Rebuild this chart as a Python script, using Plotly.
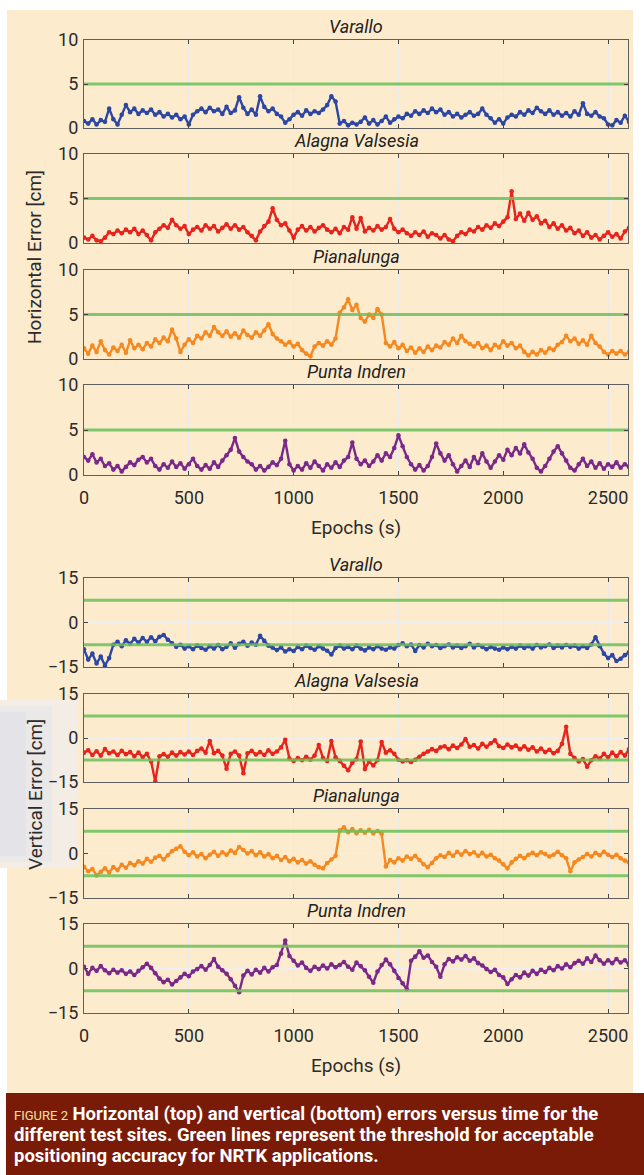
import plotly.graph_objects as go

# ---------------- data ----------------
epochs = list(range(0, 2601, 20))
x_range = [0, 2595]
x_ticks = [0, 500, 1000, 1500, 2000, 2500]
h_ticks = [0, 5, 10]
v_ticks = [-15, 0, 15]
h_range = [0, 10]
v_range = [-15, 15]
h_threshold = [5]
v_threshold = [7.5, -7.5]

sites = ["Varallo", "Alagna Valsesia", "Pianalunga", "Punta Indren"]
site_colors = ["#2c46a3", "#e8231b", "#f5891f", "#7a2889"]

h_varallo = [
    0.8, 0.5, 1.0, 0.4, 0.9, 0.7, 2.2, 1.0, 0.4, 1.5,
    2.6, 1.8, 2.2, 1.6, 2.0, 1.7, 2.1, 1.5, 1.8, 1.3,
    1.6, 1.2, 1.5, 1.0, 1.3, 0.4, 1.5, 1.9, 2.2, 1.8,
    2.3, 1.9, 2.1, 1.6, 2.4, 1.7, 2.0, 3.5, 2.3, 1.6,
    2.1, 1.5, 3.6, 2.4, 1.9, 2.2, 1.6, 1.3, 0.6, 1.0,
    1.5, 1.8, 1.4, 2.0, 1.6, 1.9, 1.7, 2.1, 2.6, 3.6,
    3.0, 0.5, 0.8, 0.3, 0.6, 0.4, 0.7, 1.2, 0.5, 0.9,
    0.4, 0.8, 1.3, 0.6, 1.0, 1.3, 1.1, 1.6, 1.4, 1.9,
    1.6, 2.0, 1.7, 2.2, 1.8, 2.1, 1.5, 1.8, 1.3, 1.6,
    1.2, 1.5, 1.8, 1.4, 1.6, 2.2, 1.5, 1.1, 0.6, 1.0,
    0.5, 1.2, 1.5, 1.3, 1.8, 1.5, 2.0, 1.7, 2.3, 1.9,
    1.6, 2.0, 1.5, 1.8, 1.4, 1.7, 1.3, 1.9, 1.5, 2.8,
    1.6, 1.4, 1.8, 1.3, 1.1, 0.4, 0.3, 0.9, 0.6, 1.4,
    0.7,
]
h_alagna = [
    0.6, 0.4, 0.8, 0.3, 0.2, 0.6, 1.2, 1.0, 1.4, 1.1,
    1.5, 1.2, 1.6, 1.0, 1.4, 0.9, 0.3, 1.2, 1.6, 2.0,
    1.7, 2.6, 2.0, 1.6, 1.9, 1.0, 1.5, 1.8, 1.4, 2.0,
    1.6, 1.9, 1.3, 1.7, 2.1, 1.6, 2.0, 1.5, 1.8, 1.2,
    0.8, 0.3, 1.3, 1.9, 2.4, 3.9, 2.6, 2.0, 2.2, 1.4,
    0.6, 1.5, 1.9, 1.4, 1.8, 1.3, 1.7, 2.0, 1.5, 1.2,
    1.6, 1.1, 1.8, 1.5, 2.9, 1.6, 2.8, 1.3, 1.7, 1.4,
    1.9, 1.5, 1.8, 2.7, 1.6, 1.2, 1.5, 1.1, 0.8, 1.2,
    0.9, 1.3, 0.7, 1.1, 0.9, 0.5, 0.9, 0.4, 0.2, 0.8,
    1.2, 1.0, 1.5, 1.3, 1.8, 1.5, 2.0, 1.7, 2.2, 1.9,
    2.4, 2.9, 5.8, 2.7, 3.3, 2.5, 3.4, 2.6, 3.0, 2.2,
    2.5, 1.8, 2.2, 1.6, 2.0, 1.4, 1.7, 1.1, 1.4, 0.8,
    1.2, 0.6, 0.9, 0.4, 0.8, 1.2, 0.7, 1.0, 0.5, 1.3,
    1.7,
]
h_pianalunga = [
    1.2, 0.6, 1.5, 0.8, 2.0, 1.0, 0.5, 1.3, 0.9, 1.6,
    0.7, 2.1, 1.2, 1.6, 1.1, 1.8, 1.4, 2.2, 1.8, 2.4,
    2.0, 3.3, 2.3, 0.8, 1.6, 2.2, 1.8, 2.6, 2.3, 3.0,
    2.6, 3.6, 3.0, 2.6, 3.1, 2.5, 2.9, 2.4, 3.2, 2.7,
    2.4, 3.0, 2.6, 3.2, 3.9, 2.8, 2.3, 2.0, 1.6, 1.9,
    1.4, 1.7, 1.0, 0.6, 0.3, 1.4, 1.8, 1.5, 2.0, 1.6,
    2.3, 5.2, 5.8, 6.7, 5.5, 6.1, 4.6, 4.2, 5.0, 4.6,
    5.6, 5.0, 1.8, 1.4, 1.9, 1.2, 1.6, 0.9, 1.3, 0.7,
    1.2, 0.8, 1.4, 1.0, 1.5, 1.3, 1.9, 1.6, 2.3, 1.8,
    2.6, 2.0, 1.7, 1.4, 1.8, 1.2, 1.5, 1.0, 1.6, 1.3,
    2.0, 1.5, 1.8, 1.2, 1.5, 0.8, 0.4, 0.8, 0.5, 1.0,
    0.7, 1.2, 1.0, 1.6, 1.9, 2.6, 2.0, 2.3, 1.7, 2.1,
    1.6, 2.6, 1.8, 1.4, 0.8, 0.5, 0.9, 0.6, 0.9, 0.5,
    0.8,
]
h_punta = [
    2.0, 1.6, 2.3, 1.4, 1.8, 1.0, 1.3, 0.6, 1.0, 0.4,
    0.9, 1.4, 1.1, 1.7, 2.0, 1.4, 1.8, 1.0, 0.6, 1.2,
    0.8, 1.5, 0.9, 1.3, 0.7, 1.2, 1.8, 1.0, 0.6, 1.1,
    0.7, 1.4, 0.9, 1.6, 2.2, 2.8, 4.1, 2.6, 2.0, 1.5,
    1.2, 0.6, 1.0, 0.5, 0.9, 1.4, 1.1, 1.8, 3.8, 1.2,
    0.5, 1.0, 0.6, 1.3, 0.8, 1.5, 1.0, 0.5, 1.2, 0.8,
    1.4, 0.9, 1.6, 2.0, 3.6, 1.8, 1.2, 1.6, 1.0, 1.5,
    2.2, 1.6, 2.4, 2.0, 3.0, 4.4, 3.2, 2.0, 1.2, 0.6,
    1.1, 0.5, 1.0, 2.0, 3.5, 2.4, 1.6, 2.2, 1.2, 0.4,
    1.0, 1.6, 0.9, 2.0, 1.3, 2.4, 1.5, 0.8, 1.5, 2.2,
    1.7, 2.8, 2.2, 3.0, 2.4, 3.4, 2.5, 1.8, 0.8, 0.4,
    1.0, 1.8, 2.6, 3.2, 2.4, 1.6, 0.8, 0.5, 1.2, 1.8,
    1.0, 1.5, 0.8, 1.3, 0.7, 1.2, 0.9, 1.4, 0.8, 1.2,
    0.9,
]

v_varallo = [
    -9.0, -12.5, -10.5, -13.8, -11.5, -14.5, -12.0, -7.5, -6.5, -8.0,
    -6.0, -7.2, -5.5, -6.8, -5.2, -6.5, -5.0, -6.3, -4.8, -4.2,
    -5.8, -7.0, -8.2, -7.5, -8.8, -8.0, -9.0, -7.8, -8.6, -9.2,
    -8.0, -8.8, -7.6, -9.0, -8.2, -7.0, -8.5, -7.2, -6.5, -7.8,
    -6.8, -7.5, -4.5, -6.2, -7.8, -8.5, -9.3, -8.4, -9.8, -9.0,
    -9.6, -8.2, -9.0, -7.8, -8.6, -9.2, -8.0, -8.8, -9.5, -10.8,
    -8.6, -7.8, -8.8, -8.2, -9.0, -7.8, -8.8, -9.4, -8.4, -9.0,
    -8.0, -8.8, -9.2, -8.4, -8.8, -7.6, -7.0, -8.0, -7.4, -9.6,
    -7.6, -8.4, -7.2, -8.0, -7.6, -8.6, -8.0, -7.4, -8.4, -7.8,
    -8.6, -8.0, -7.2, -8.4, -7.6, -8.2, -9.0, -8.2, -8.8, -9.2,
    -8.4, -9.0, -8.2, -8.8, -7.8, -8.6, -8.0, -8.8, -7.6, -8.4,
    -8.0, -7.4, -8.6, -7.8, -8.4, -7.6, -8.2, -7.8, -8.8, -8.0,
    -8.6, -7.4, -5.0, -8.0, -10.5, -12.0, -11.0, -13.0, -12.2, -11.0,
    -10.0,
]
v_alagna = [
    -5.0, -4.2, -5.8, -4.5, -6.0, -3.8, -5.2, -4.6, -5.8, -4.4,
    -5.5, -4.8, -6.2, -5.0, -6.5, -5.4, -8.0, -14.8, -6.2, -5.5,
    -6.4, -5.0, -6.0, -4.8, -5.6, -4.6, -5.8, -4.4, -3.6, -5.0,
    -1.0, -5.2, -4.4, -6.0, -10.5, -5.4, -4.6, -6.0, -12.0, -5.2,
    -4.4, -5.6, -4.8, -5.8, -4.2, -5.4, -4.6, -3.2, -0.6, -7.0,
    -7.8, -6.8, -7.6, -6.4, -7.4, -6.0, -2.4, -6.8, -7.8, -1.0,
    -6.6, -7.8, -9.5, -11.0, -8.4, -7.2, -1.2, -10.6, -8.0, -9.4,
    -7.6, -1.4, -5.0, -4.2, -5.4, -7.4, -8.0, -7.6, -8.2, -7.4,
    -6.4, -5.4, -4.6, -3.8, -4.4, -3.2, -2.8, -3.8, -2.6, -3.4,
    -2.2, -0.4, -3.0, -2.4, -3.6, -2.0, -3.0, -1.8, -0.8, -2.8,
    -3.4, -2.2, -3.2, -2.6, -3.8, -2.8, -4.0, -3.2, -4.6, -3.6,
    -4.8, -4.0, -5.2, -4.4, -2.0, 3.8, -5.4, -6.8, -8.0, -7.2,
    -9.8, -7.6, -6.2, -7.0, -5.4, -6.6, -5.0, -6.2, -4.8, -6.0,
    -3.8,
]
v_pianalunga = [
    -4.5, -6.0, -5.2, -7.4, -6.2, -5.0, -6.4, -4.6, -5.6, -3.8,
    -4.8, -3.2, -4.0, -2.6, -3.4, -1.8, -2.8, -1.4, -0.8, -2.0,
    -0.6, 0.8, 1.6, 2.4, 0.6, -0.6, 0.4, -1.0, -0.2, -1.6,
    -0.4, 0.6, -0.8, 0.4, -0.4, 1.0, 0.2, 2.2, 1.2, 0.0,
    0.8, -0.6, 0.4, -1.0, -0.2, -1.6, -0.8, -2.2, -1.2, -2.6,
    -1.8, -3.0, -2.2, -3.4, -2.6, -3.8, -4.6, -5.0, -3.2, -2.0,
    -0.8, 7.8, 8.8, 7.2, 8.2, 6.8, 7.8, 7.0, 8.0, 6.8,
    7.6, 6.6, -4.4, -2.2, -3.0, -1.6, -2.4, -1.0, -1.8, -0.8,
    -2.2, -3.6, -4.6, -3.2, -1.6, -0.6, -1.2, 0.2, -0.8, 0.6,
    -0.4, 0.8, -0.2, 0.4, -0.8, 0.2, -1.0, -0.4, -1.6, -2.4,
    -3.6, -5.0, -3.0, -1.8, -0.8, -1.6, -0.4, 0.2, -0.6, 0.4,
    -0.2, -1.0, -0.4, 0.6, -0.6, -1.6, -6.0, -3.0, -2.0, -1.2,
    -0.2, -1.0, 0.2, -0.6, 0.6, -0.4, -1.2, -0.4, -1.6, -2.4,
    -3.0,
]
v_punta = [
    0.6, -1.8, 0.2, -0.8, 0.8, -0.6, -1.6, -0.4, -1.4, -0.6,
    -1.8, -1.0, -2.2, -0.8, 0.4, 1.6, 0.2, -1.6, -3.4, -4.6,
    -3.8, -5.4, -4.2, -3.0, -1.8, -2.6, -1.0, -0.2, 0.8, -0.4,
    1.2, 3.2, 0.6, -0.6, -1.8, -3.6, -5.8, -8.0, -2.4, -0.8,
    -2.0, -0.4, -1.4, 0.2, -1.0, 0.4, 1.2, 5.0, 9.4, 4.2,
    2.6, 1.0, 2.0, 0.2, -0.8, 0.6, -0.2, 1.0, 0.0, 1.4,
    0.4, 1.2, 2.2, 0.6, -0.4, 2.0, 0.8, -0.6, -2.8, -4.8,
    -1.0, 1.2, 3.0, 1.4, -0.8, -3.2, -5.0, -7.0, 2.6, 4.0,
    5.8, 3.6, 4.4, 2.2, 0.6, -2.8, 1.4, 3.2, 2.4, 3.8,
    3.0, 4.2, 2.6, 3.4, 1.8, 1.0, -0.2, -1.2, -0.4, -2.2,
    -3.0, -5.2, -3.6, -2.2, -3.0, -1.4, -2.4, -0.8, -1.8, -0.4,
    -1.2, 0.2, -0.6, 0.8, 0.0, 1.4, 0.4, 1.8, 2.6, 1.6,
    3.4, 2.2, 4.4, 2.8, 1.6, 2.8, 1.8, 3.2, 2.0, 2.8,
    1.2,
]

h_series = [h_varallo, h_alagna, h_pianalunga, h_punta]
v_series = [v_varallo, v_alagna, v_pianalunga, v_punta]

# ---------------- layout ----------------
W, H = 644, 1175
PLOT_X0, PLOT_X1 = 84, 628
panels_px = [(40, 128), (154, 243), (270, 359), (385, 475),
             (578, 667), (694, 782), (809, 898), (924, 1013)]


def py(p):
    return 1 - p / H


FONT = "Roboto, 'Open Sans', sans-serif"
CAP_FONT = "Roboto, 'Liberation Sans', sans-serif"
GREEN = "#6cc159"
TXT = "#2b2b2b"

fig = go.Figure()
layout = dict(
    width=W, height=H, margin=dict(l=0, r=0, t=0, b=0, autoexpand=False),
    paper_bgcolor="white", plot_bgcolor="#fbfcfe", showlegend=False,
    font=dict(family=FONT, color=TXT),
)

annotations = []
for i in range(8):
    top, bot = panels_px[i]
    is_h = i < 4
    site = i % 4
    xa = "x" if i == 0 else f"x{i + 1}"
    ya = "y" if i == 0 else f"y{i + 1}"
    xkey = "xaxis" if i == 0 else f"xaxis{i + 1}"
    ykey = "yaxis" if i == 0 else f"yaxis{i + 1}"
    bottom_panel = i in (3, 7)
    layout[xkey] = dict(
        domain=[PLOT_X0 / W, PLOT_X1 / W], anchor=ya, range=x_range,
        tickvals=x_ticks, showticklabels=bottom_panel, ticks="inside", ticklen=4,
        tickcolor="#444", showline=True, linecolor="#5f5f5f", linewidth=1.3,
        mirror="ticks", showgrid=True, gridcolor="#e9eaec", zeroline=False,
        tickfont=dict(size=18, color=TXT), ticklabelstandoff=6,
        automargin=False,
    )
    layout[ykey] = dict(
        domain=[py(bot), py(top)], anchor=xa,
        range=h_range if is_h else v_range,
        tickvals=h_ticks if is_h else v_ticks,
        ticks="inside", ticklen=4, tickcolor="#444", showline=True,
        linecolor="#5f5f5f", linewidth=1.3, mirror="ticks", showgrid=True,
        gridcolor="#eeeff1", zeroline=False,
        tickfont=dict(size=18, color=TXT), ticklabelstandoff=1,
        automargin=False,
    )
    vals = h_series[site] if is_h else v_series[site]
    fig.add_trace(go.Scatter(
        x=epochs, y=vals, xaxis=xa, yaxis=ya, mode="lines+markers",
        line=dict(color=site_colors[site], width=2.4),
        marker=dict(color=site_colors[site], size=4.6),
        cliponaxis=True, hoverinfo="skip",
    ))
    for th in (h_threshold if is_h else v_threshold):
        fig.add_trace(go.Scatter(
            x=x_range, y=[th, th], xaxis=xa, yaxis=ya, mode="lines",
            line=dict(color=GREEN, width=3), opacity=0.85, hoverinfo="skip",
        ))
    annotations.append(dict(
        text=f"<i>{sites[site]}</i>", x=(PLOT_X0 + PLOT_X1) / 2 / W,
        y=py(top - 1), xref="paper", yref="paper", xanchor="center",
        yanchor="bottom", showarrow=False, font=dict(size=18, color="#222"),
    ))

common = dict(xref="paper", yref="paper", xanchor="center", yanchor="middle",
              showarrow=False)
annotations += [
    dict(text="Horizontal Error [cm]", x=35 / W, y=py(257), textangle=-90,
         font=dict(size=19, color=TXT), **common),
    dict(text="Vertical Error [cm]", x=35 / W, y=py(795), textangle=-90,
         font=dict(size=19, color=TXT), **common),
    dict(text="Epochs (s)", x=(PLOT_X0 + PLOT_X1) / 2 / W, y=py(527),
         font=dict(size=19, color=TXT), **common),
    dict(text="Epochs (s)", x=(PLOT_X0 + PLOT_X1) / 2 / W, y=py(1065),
         font=dict(size=19, color=TXT), **common),
]

caption_lines = [
    '<span style="color:#f3e3a3;font-size:13px">FIGURE 2</span> '
    '<b>Horizontal (top) and vertical (bottom) errors versus time for the</b>',
    '<b>different test sites. Green lines represent the threshold for acceptable</b>',
    '<b>positioning accuracy for NRTK applications.</b>',
]
for k, line in enumerate(caption_lines):
    annotations.append(dict(
        text=line, x=12 / W, y=py(1114 + 21 * k), xref="paper", yref="paper",
        xanchor="left", yanchor="middle", showarrow=False,
        font=dict(size=18.5, color="white", family=CAP_FONT),
    ))

layout["annotations"] = annotations
layout["shapes"] = [
    dict(type="rect", xref="paper", yref="paper", x0=7 / W, x1=633 / W,
         y0=py(1093), y1=py(10), fillcolor="#fdebcd", line=dict(width=0),
         layer="below"),
    dict(type="rect", xref="paper", yref="paper", x0=0, x1=78 / W,
         y0=py(868), y1=py(700), fillcolor="#f3ede6", line=dict(width=0),
         layer="below"),
    dict(type="rect", xref="paper", yref="paper", x0=0, x1=52 / W,
         y0=py(862), y1=py(706), fillcolor="#ebe8e8", line=dict(width=0),
         layer="below"),
    dict(type="rect", xref="paper", yref="paper", x0=0, x1=26 / W,
         y0=py(856), y1=py(712), fillcolor="#e4e3e7", line=dict(width=0),
         layer="below"),
    dict(type="rect", xref="paper", yref="paper", x0=6 / W, x1=1,
         y0=0, y1=py(1093), fillcolor="#7a1b08", line=dict(width=0),
         layer="below"),
]
fig.update_layout(**layout)
fig.write_html(
    "out.html",
    config={"displayModeBar": False},
    post_script="document.body.style.margin='0px';"
                "document.body.style.overflow='hidden';",
)
